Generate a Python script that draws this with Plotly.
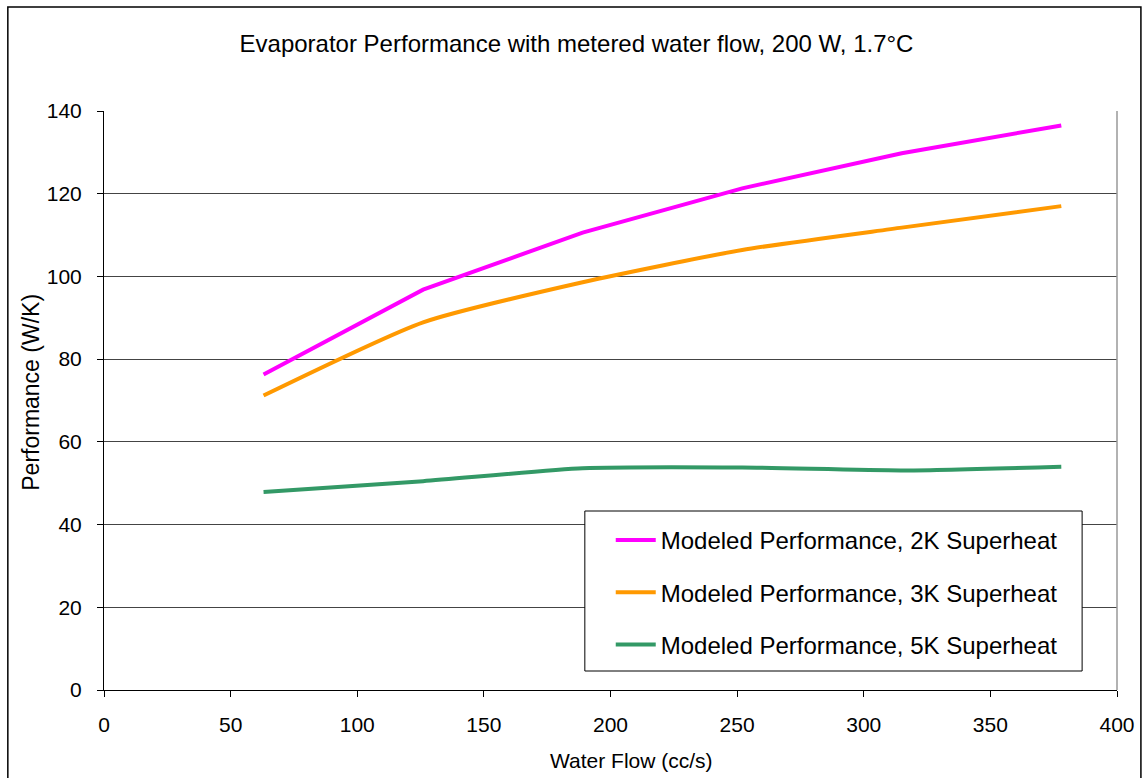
import plotly.graph_objects as go

# Data
flow = [63, 126, 189, 252, 315, 378]
perf_2k = [76.3, 96.8, 110.6, 121.3, 129.8, 136.5]
perf_3k = [71.2, 88.9, 98.6, 106.4, 111.8, 117.0]
perf_5k = [47.9, 50.5, 53.6, 53.8, 53.1, 54.0]

names = ["Modeled Performance, 2K Superheat",
         "Modeled Performance, 3K Superheat",
         "Modeled Performance, 5K Superheat"]
colors = ["#FF00FF", "#FF9900", "#339966"]
x_ticks = [0, 50, 100, 150, 200, 250, 300, 350, 400]
y_ticks = [0, 20, 40, 60, 80, 100, 120, 140]

FONT = "Liberation Sans, Arial, sans-serif"

fig = go.Figure()
for ys, nm, col, shp in zip([perf_2k, perf_3k, perf_5k], names, colors,
                            ["linear", "spline", "spline"]):
    fig.add_trace(go.Scatter(x=flow, y=ys, mode="lines", name=nm,
                             legendgroup=nm,
                             line=dict(color=col, width=4, shape=shp,
                                       smoothing=0.6)))

W, H = 1147, 778
L, R, T, B = 103.5, 1120, 111, 690
pw, ph = R - L, B - T

def px(xp):
    return (xp - L) / pw

def py(yp):
    return (B - yp) / ph

fig.update_layout(
    width=W, height=H,
    margin=dict(l=L, r=W - R, t=T, b=H - B, pad=0),
    paper_bgcolor="white", plot_bgcolor="white",
    font=dict(family=FONT, size=21, color="black"),
    title=dict(text="Evaporator Performance with metered water flow, 200 W, 1.7°C",
               x=576.5 / W, xref="container", xanchor="center",
               y=1 - 44 / H, yref="container", yanchor="middle",
               font=dict(size=24, family=FONT, color="black")),
    xaxis=dict(range=[0, 400], tickvals=x_ticks, ticks="outside", ticklen=6,
               tickcolor="black", showline=True, linecolor="black", linewidth=1,
               showgrid=False, zeroline=False, ticklabelstandoff=10,
               tickfont=dict(size=21)),
    yaxis=dict(range=[0, 140], tickvals=y_ticks, ticks="outside", ticklen=6,
               tickcolor="black", showline=True, linecolor="black", linewidth=1,
               showgrid=True, gridcolor="#444", gridwidth=1, zeroline=False,
               tickfont=dict(size=21), ticklabelstandoff=11),
    legend=dict(x=px(612), y=py(518), xanchor="left", yanchor="top",
                bgcolor="rgba(0,0,0,0)", borderwidth=0,
                font=dict(size=24, family=FONT, color="black"),
                tracegroupgap=18, itemwidth=40),
    showlegend=True,
)

# axis titles
fig.add_annotation(text="Water Flow (cc/s)", xref="paper", yref="paper",
                   x=px(633), y=py(760), showarrow=False,
                   xanchor="center", yanchor="middle", font=dict(size=21))
fig.add_annotation(text="Performance (W/K)", xref="paper", yref="paper",
                   x=px(30), y=py(392), showarrow=False, textangle=-90,
                   xanchor="center", yanchor="middle", font=dict(size=23))

# plot-area right border (grey), legend box, outer chart border
fig.add_shape(type="line", xref="paper", yref="paper", x0=1, x1=1, y0=0, y1=1,
              line=dict(color="#999", width=1.5))
fig.add_shape(type="rect", xref="paper", yref="paper", layer="above",
              x0=px(586), x1=px(1085), y0=py(511), y1=py(671),
              line=dict(color="black", width=1), fillcolor="white")
fig.add_shape(type="rect", xref="paper", yref="paper",
              x0=px(7), x1=px(1144), y0=py(7), y1=py(800),
              line=dict(color="black", width=1.5), fillcolor="rgba(0,0,0,0)")

fig.write_html("out.html", config={"displayModeBar": False},
               post_script="document.body.style.margin='0';"
                           "document.body.style.overflow='hidden';")
